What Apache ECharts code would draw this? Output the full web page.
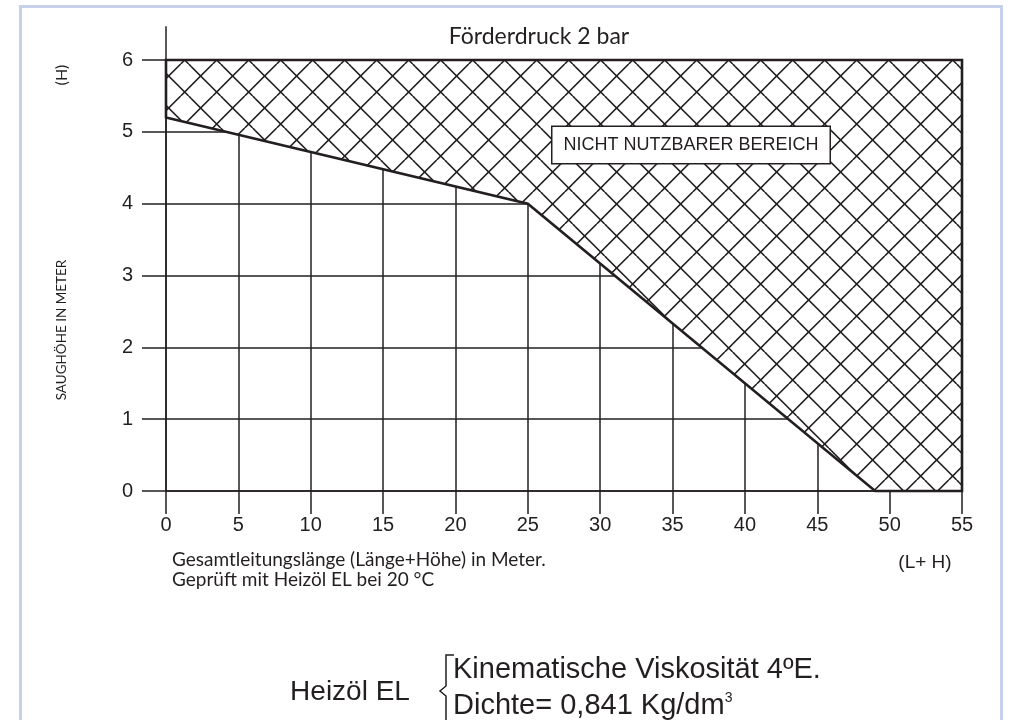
<!DOCTYPE html>
<html>
<head>
<meta charset="utf-8">
<script src="https://cdn.jsdelivr.net/npm/echarts@6/dist/echarts.min.js"></script>
<style>
  html, body { margin: 0; padding: 0; background: #fff; }
  #chart { width: 1012px; height: 720px; }
</style>
</head>
<body>
<div id="chart"></div>
<script>
  // axis ranges (L+H in m, H in m)
  const lengthRange = [0, 55];
  const heightRange = [0, 6];
  // border of the unusable area: suction height over total line length
  const curveLength = [0, 25, 49, 55];
  const curveHeight = [5.2, 4.0, 0, 0];

  const ink = '#231f20';
  const gillFont = 'Lato, "Open Sans", sans-serif';
  const arialFont = '"Liberation Sans", Arial, sans-serif';

  // cross-hatch tile (white background so the grid stays hidden under it)
  function makeHatch () {
    const size = 32;
    const c = document.createElement('canvas');
    c.width = size;
    c.height = size;
    const ctx = c.getContext('2d');
    ctx.fillStyle = '#fff';
    ctx.fillRect(0, 0, size, size);
    ctx.strokeStyle = ink;
    ctx.lineWidth = 1.6;
    const a = 28.7, b = 20.7;
    for (let k = -1; k <= 1; k++) {
      ctx.beginPath();
      ctx.moveTo(a + k * size, 0);
      ctx.lineTo(a + k * size + size, size);
      ctx.stroke();
      ctx.beginPath();
      ctx.moveTo(b + k * size, 0);
      ctx.lineTo(b + k * size - size, size);
      ctx.stroke();
    }
    return c;
  }

  const hatch = makeHatch();
  const chart = echarts.init(document.getElementById('chart'));

  const option = {
    animation: false,
    backgroundColor: '#fff',
    grid: { left: 166, right: 50, top: 60, bottom: 229 },
    xAxis: {
      type: 'value',
      min: lengthRange[0],
      max: lengthRange[1],
      interval: 5,
      axisLine: { show: true, onZero: false, lineStyle: { color: ink, width: 1.5 } },
      axisTick: { show: true, length: 23, lineStyle: { color: ink, width: 1.5 } },
      axisLabel: { margin: 24, fontSize: 20, fontFamily: arialFont, color: ink },
      splitLine: { show: true, lineStyle: { color: ink, width: 1.5 } }
    },
    yAxis: {
      type: 'value',
      min: heightRange[0],
      max: heightRange[1],
      interval: 1,
      axisLine: { show: true, onZero: false, lineStyle: { color: ink, width: 1.5 } },
      axisTick: { show: true, length: 24, lineStyle: { color: ink, width: 1.5 } },
      axisLabel: {
        margin: 33, fontSize: 20, fontFamily: arialFont, color: ink,
        verticalAlign: 'middle', padding: [0, 0, 16, 0]
      },
      splitLine: { show: true, lineStyle: { color: ink, width: 1.5 } }
    },
    series: [
      {
        // hatched "nicht nutzbarer Bereich"
        type: 'custom',
        data: [0],
        clip: false,
        silent: true,
        renderItem: function (params, api) {
          const pts = [];
          for (let i = 0; i < curveLength.length; i++) {
            pts.push(api.coord([curveLength[i], curveHeight[i]]));
          }
          pts.push(api.coord([lengthRange[1], heightRange[1]]));
          pts.push(api.coord([lengthRange[0], heightRange[1]]));
          return {
            type: 'polygon',
            shape: { points: pts },
            style: {
              fill: { image: hatch, repeat: 'repeat' },
              stroke: ink,
              lineWidth: 2.6,
              lineJoin: 'miter'
            }
          };
        }
      },
      {
        // y axis line running past the top of the scale
        type: 'line',
        data: [[0, heightRange[1]], [0, 6.47]],
        clip: false,
        symbol: 'none',
        silent: true,
        lineStyle: { color: ink, width: 1.5 }
      }
    ],
    graphic: [
      {
        type: 'rect',
        shape: { x: 20.5, y: 6.5, width: 981, height: 800 },
        style: { fill: 'none', stroke: '#c6d0ea', lineWidth: 3 },
        silent: true
      },
      {
        type: 'text',
        style: { x: 539, y: 37, text: 'Förderdruck 2 bar', font: '23px ' + gillFont, fill: ink, align: 'center', verticalAlign: 'middle' }
      },
      {
        type: 'text', x: 62, y: 330, rotation: Math.PI / 2,
        style: { x: 0, y: 0, text: 'SAUGHÖHE IN METER', font: '13.5px ' + gillFont, fill: ink, align: 'center', verticalAlign: 'middle' }
      },
      {
        type: 'text', x: 62, y: 75, rotation: Math.PI / 2,
        style: { x: 0, y: 0, text: '(H)', font: '16px ' + gillFont, fill: ink, align: 'center', verticalAlign: 'middle' }
      },
      {
        type: 'text',
        style: { x: 172, y: 560, text: 'Gesamtleitungslänge (Länge+Höhe) in Meter.', font: '19px ' + gillFont, fill: ink, align: 'left', verticalAlign: 'middle' }
      },
      {
        type: 'text',
        style: { x: 172, y: 580, text: 'Geprüft mit Heizöl EL bei 20 °C', font: '19px ' + gillFont, fill: ink, align: 'left', verticalAlign: 'middle' }
      },
      {
        type: 'text',
        style: { x: 925, y: 563, text: '(L+ H)', font: '19px ' + arialFont, fill: ink, align: 'center', verticalAlign: 'middle' }
      },
      {
        type: 'text',
        z: 100,
        style: {
          x: 691, y: 145, text: 'NICHT NUTZBARER BEREICH', font: '18px ' + arialFont, fill: ink,
          align: 'center', verticalAlign: 'middle',
          backgroundColor: '#fff', borderColor: ink, borderWidth: 1.5, padding: [9, 11, 9, 11]
        }
      },
      {
        type: 'text',
        style: { x: 350, y: 692, text: 'Heizöl EL', font: '28px ' + arialFont, fill: ink, align: 'center', verticalAlign: 'middle' }
      },
      {
        type: 'polyline',
        shape: { points: [[454, 655], [446, 655], [446, 686], [440, 691], [446, 696], [446, 724], [454, 724]] },
        style: { fill: 'none', stroke: ink, lineWidth: 1.5 }
      },
      {
        type: 'text',
        style: { x: 453, y: 670, text: 'Kinematische Viskosität 4ºE.', font: '29px ' + arialFont, fill: ink, align: 'left', verticalAlign: 'middle' }
      },
      {
        type: 'text',
        style: {
          x: 453, y: 706, text: 'Dichte= 0,841 Kg/dm{sup|3}', fill: ink, align: 'left', verticalAlign: 'middle',
          font: '29px ' + arialFont,
          rich: { sup: { fontSize: 14, fontFamily: arialFont, verticalAlign: 'top', padding: [0, 0, 12, 0], fill: ink } }
        }
      }
    ]
  };

  chart.setOption(option);

  window.addEventListener('resize', function () {
    chart.resize();
  });
</script>
</body>
</html>
